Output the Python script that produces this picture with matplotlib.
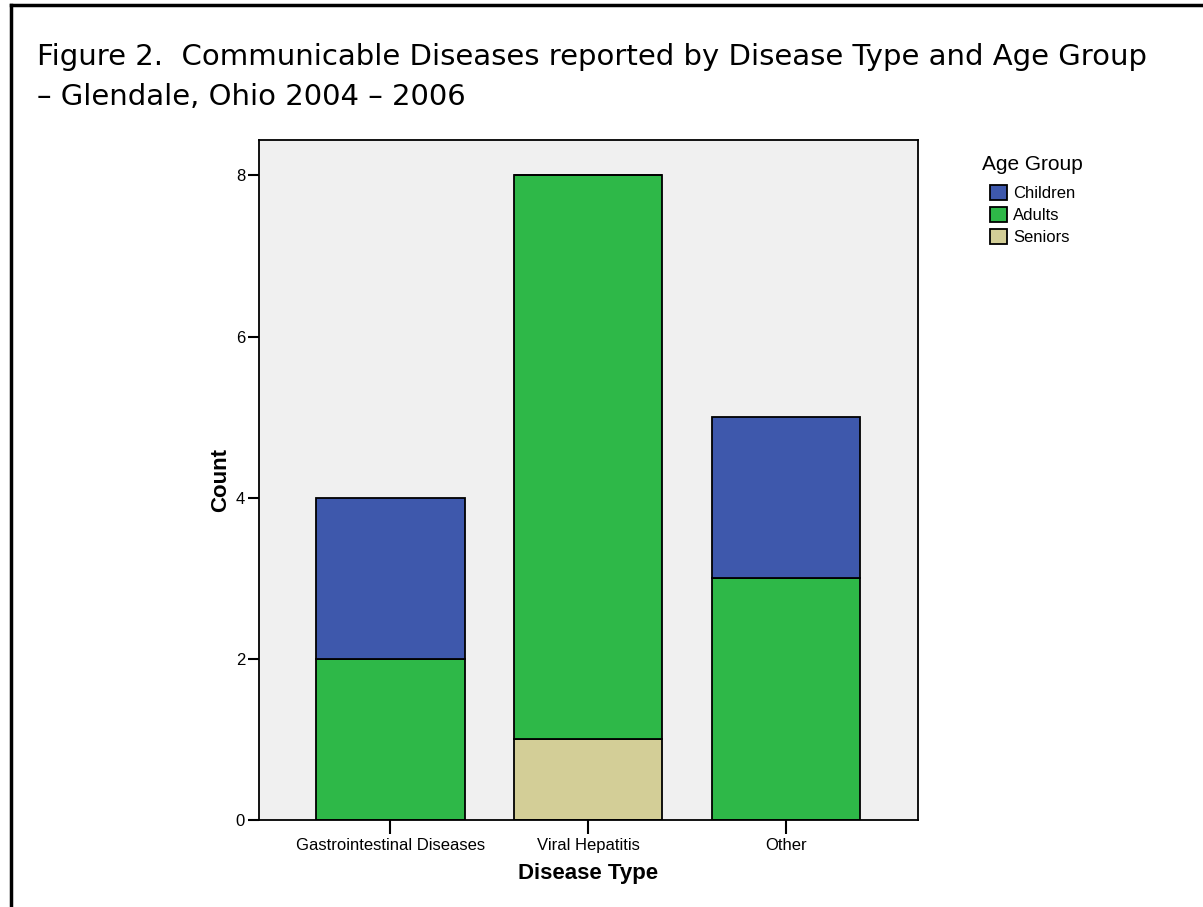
import matplotlib.pyplot as plt
import matplotlib.lines as mlines
import numpy as np

# Data
diseases = ['Gastrointestinal Diseases', 'Viral Hepatitis', 'Other']
groups = ['Children', 'Adults', 'Seniors']
children = [2, 0, 2]
adults = [2, 7, 3]
seniors = [0, 1, 0]
colors = {'Children': '#3e58ac', 'Adults': '#2eb848', 'Seniors': '#d3ce97'}

plt.rcParams['font.family'] = ['Liberation Sans', 'DejaVu Sans']

# Layout
fig = plt.figure(figsize=(12.03, 9.07), dpi=100)
ax = fig.add_axes([0.2153, 0.0959, 0.5478, 0.7497])
ax.set_facecolor('#f0f0f0')

# Plot (stacked: seniors at bottom, then adults, then children)
x = np.arange(len(diseases))
bottom = np.zeros(len(diseases))
handles = {}
for name, vals in [('Seniors', seniors), ('Adults', adults), ('Children', children)]:
    vals = np.array(vals)
    b = ax.bar(x, vals, bottom=bottom, width=0.75, color=colors[name],
               edgecolor='black', linewidth=1.3)
    handles[name] = b
    bottom += vals

# Details
ax.set_xlim(-0.665, 2.67)
ax.set_ylim(0, 8.44)
ax.set_yticks([0, 2, 4, 6, 8])
ax.set_xticks(x)
ax.set_xticklabels(diseases)
ax.tick_params(axis='y', length=8, width=1.5, labelsize=12, pad=2)
ax.tick_params(axis='x', length=10, width=1.5, labelsize=12, pad=3)
for s in ax.spines.values():
    s.set_linewidth(1.3)
ax.set_xlabel('Disease Type', fontsize=16, fontweight='bold', labelpad=7)
ax.set_ylabel('Count', fontsize=16, fontweight='bold', labelpad=3)

leg = ax.legend([handles[g] for g in groups], groups, title='Age Group',
                loc='upper left', bbox_to_anchor=(1.075, 1.0), frameon=False,
                fontsize=12, title_fontsize=15, handlelength=1.0,
                handleheight=1.0, handletextpad=0.4, labelspacing=0.35)
leg._legend_box.sep = 8

fig.text(0.031, 0.937, 'Figure 2.  Communicable Diseases reported by Disease Type and Age Group',
         fontsize=21, fontfamily=['DejaVu Sans'], va='center')
fig.text(0.031, 0.893, '\u2013 Glendale, Ohio 2004 \u2013 2006',
         fontsize=21, fontfamily=['DejaVu Sans'], va='center')

# Frame around the figure (top and left edges)
fig.add_artist(mlines.Line2D([0.0092, 0.0092], [0.0, 0.9945], color='black', linewidth=2.5))
fig.add_artist(mlines.Line2D([0.0092, 1.0], [0.9945, 0.9945], color='black', linewidth=2.5))

# Output
fig.savefig('out.png', dpi=100)
